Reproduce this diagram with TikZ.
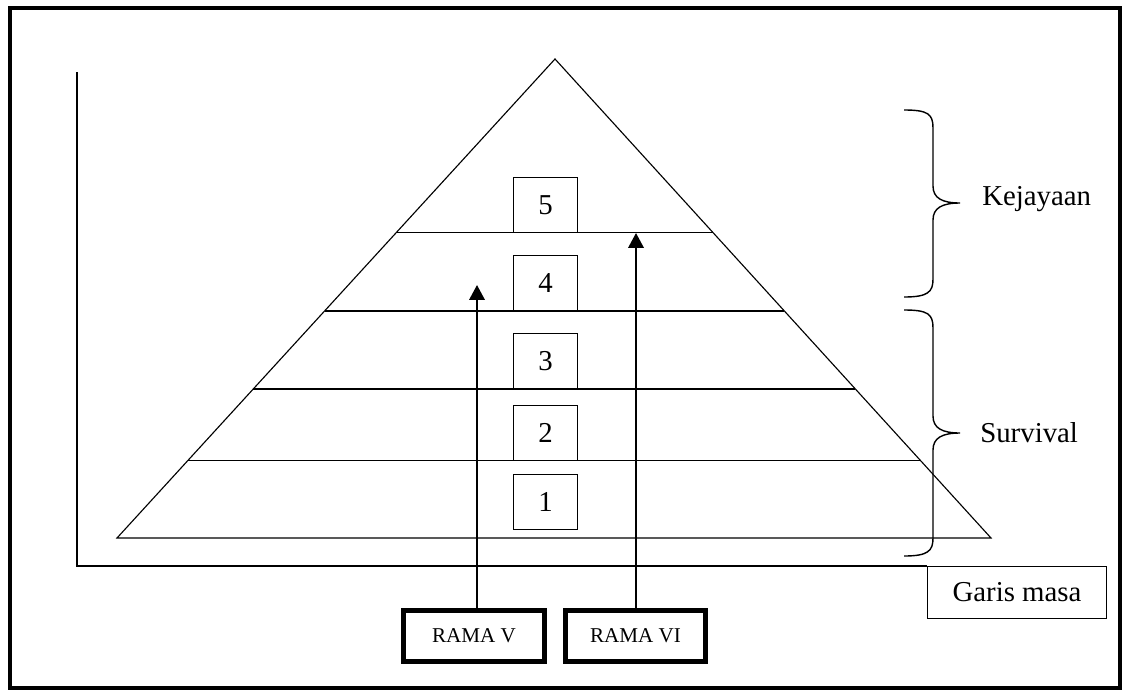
\documentclass[tikz,border=0pt]{standalone}
\usepackage{fontspec}
\setmainfont{Liberation Serif}
\usetikzlibrary{arrows.meta,calc}

\begin{document}
\begin{tikzpicture}[x=0.025cm,y=-0.025cm,
    level/.style={draw,line width=0.8pt,minimum width=45.4pt,minimum height=39.7pt,inner sep=0pt,font=\fontsize{20.5}{24}\selectfont},
    ruler/.style={draw,line width=3.6pt,minimum width=100pt,minimum height=36.2pt,inner sep=0pt,font=\fontsize{15}{18}\selectfont},
    rise/.style={line width=1.4pt,-{Triangle[length=10.6pt,width=11pt]}},
    label/.style={anchor=west,inner sep=0pt,font=\fontsize{20.5}{24}\selectfont}]
    \useasboundingbox (0,0) rectangle (1122,691);
    % frame and axes
    \draw[line width=2.8pt] (10,8) rectangle (1120,688);
    \draw[line width=1pt] (77,72) -- (77,566) -- (927,566);
    \node[draw,line width=0.8pt,minimum width=127.6pt,minimum height=36.9pt,inner sep=0pt,font=\fontsize{20.5}{24}\selectfont] (garis) at (1017,592.5) {Garis masa};
    % pyramid
    \coordinate (apex) at (555,59);
    \coordinate (bl) at (117,538);
    \coordinate (br) at (991,538);
    \draw[line width=0.8pt] (apex) -- (bl) -- (br) -- cycle;
    \foreach \f in {0.363,0.526,0.689,0.839}
        \draw[line width=0.8pt] ($(apex)!\f!(bl)$) -- ($(apex)!\f!(br)$);
    \foreach \n/\y in {1/502,2/433,3/361,4/283,5/205}
        \node[level] (lvl\n) at (545.5,\y) {\n};
    % rulers
    \node[ruler] (rama5) at (474,636) {RAMA V};
    \node[ruler] (rama6) at (635.5,636) {RAMA VI};
    \coordinate (t5) at (477,285);
    \coordinate (t6) at (636,233);
    \draw[rise] (rama5.north -| t5) -- (t5);
    \draw[rise] (rama6.north -| t6) -- (t6);
    % braces
    \draw[line width=1pt] (904,110) .. controls (928,110) and (933,114) .. (933,128) -- (933,186)
        .. controls (933,198) and (942,203) .. (960,203) .. controls (942,203) and (933,208) .. (933,220)
        -- (933,279) .. controls (933,292) and (928,297) .. (904,297);
    \draw[line width=1pt] (904,310) .. controls (928,310) and (933,314) .. (933,328) -- (933,416)
        .. controls (933,428) and (942,433) .. (960,433) .. controls (942,433) and (933,438) .. (933,450)
        -- (933,538) .. controls (933,551) and (928,556) .. (904,556);
    \node[label] (kejayaan) at (982,199) {Kejayaan};
    \node[label] (survival) at (980,433) {Survival};
\end{tikzpicture}
\end{document}
